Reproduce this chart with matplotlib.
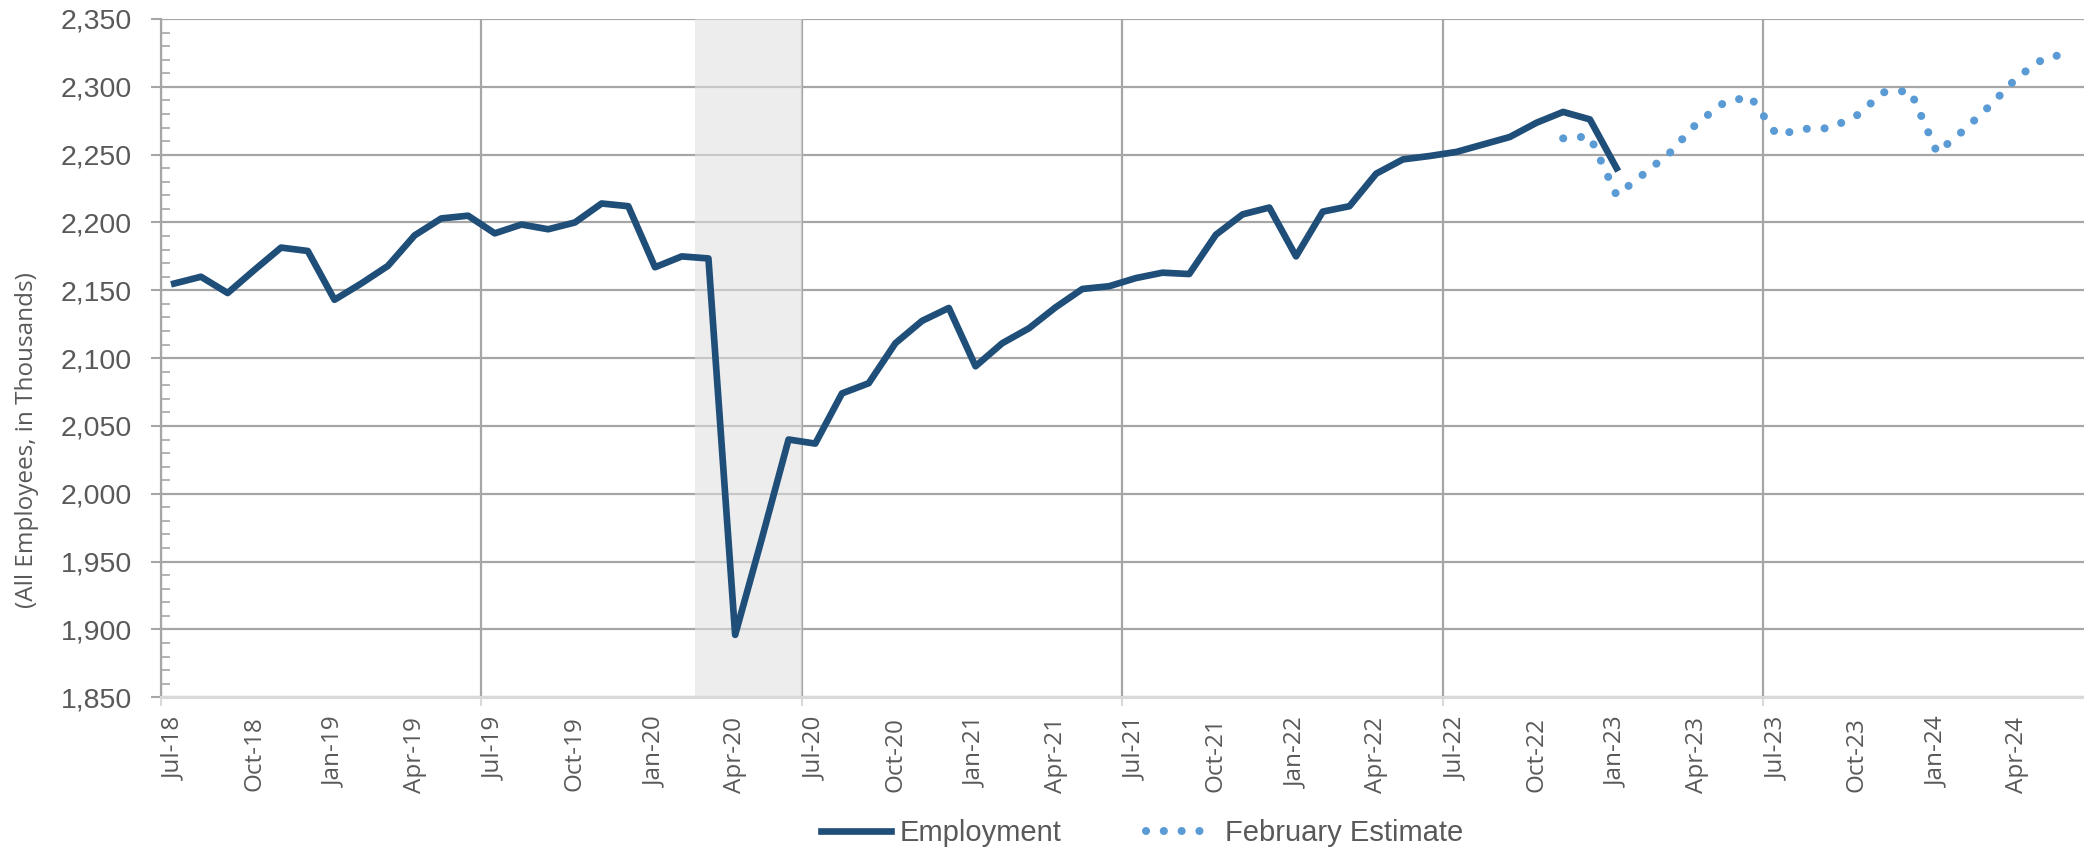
import numpy as np
import pandas as pd
import matplotlib
matplotlib.use("Agg")
import matplotlib.pyplot as plt
from matplotlib.ticker import FuncFormatter, MultipleLocator, FixedLocator

# monthly categories Jul-18 .. Jun-24
months = pd.date_range("2018-07-01", periods=72, freq="MS").strftime("%b-%y").tolist()

# Employment, Jul-18 .. Jan-23 (thousands)
employment = [2155, 2160, 2148, 2165, 2181.5, 2179, 2143, 2155, 2168, 2190.5,
              2203, 2205, 2192, 2198.5, 2195, 2200, 2214, 2212, 2167, 2175,
              2173.5, 1896, 1967, 2040, 2037, 2074, 2081.5, 2111, 2127.5, 2137,
              2094, 2111, 2122, 2137.5, 2151, 2153, 2159, 2163, 2162, 2191,
              2206, 2211, 2175, 2208, 2212, 2236, 2246.5, 2249, 2252, 2257.5,
              2263, 2273.5, 2281.5, 2276, 2240]

# February estimate, Nov-22 .. Jun-24
estimate_start = 52
estimate = [2262, 2263.5, 2220, 2235.5, 2251.5, 2273, 2288, 2293, 2264.5, 2269,
            2269.5, 2279, 2296, 2297, 2251.5, 2268, 2286.5, 2307, 2321, 2325]

# recession shading, Mar-20 .. Jun-20
shade_first, shade_last = 20, 23

text_col = "#595959"
grid_col = "#a6a6a6"

fig = plt.figure(figsize=(20.84, 8.52), dpi=100)
ax = fig.add_axes([0.0772, 0.1816, 0.9228, 0.7961])

ax.axvspan(shade_first - 0.5, shade_last + 0.5, color="#e1e1e1", alpha=0.57, lw=0, zorder=1)

x_emp = np.arange(len(employment))
x_est = np.arange(estimate_start, estimate_start + len(estimate))
ax.plot(x_emp, employment, color="#1f4e79", lw=4.8, solid_joinstyle="round",
        label="Employment", zorder=4)
ax.plot(x_est, estimate, color="#5b9bd5", lw=5.8, linestyle=(0, (0.01, 2.2)),
        dash_capstyle="round", label="February Estimate", zorder=3)

ax.set_xlim(-0.5, len(months) - 0.5)
ax.set_ylim(1850, 2350)

# x axis: labels every quarter, ticks/gridlines at each July boundary
ax.set_xticks(range(0, len(months), 3))
ax.set_xticklabels(months[::3], rotation=90, fontfamily="Open Sans",
                   fontsize=17.5, color=text_col)
ax.xaxis.set_minor_locator(FixedLocator([i - 0.5 for i in range(0, len(months), 12)]))
ax.tick_params(axis="x", which="major", length=0, pad=14)
ax.tick_params(axis="x", which="minor", length=6.5, width=1.5, color="#d9d9d9")
ax.grid(which="minor", axis="x", color=grid_col, lw=1.6, zorder=0)

# y axis
ax.yaxis.set_major_locator(MultipleLocator(50))
ax.yaxis.set_minor_locator(MultipleLocator(10))
ax.yaxis.set_major_formatter(FuncFormatter(lambda v, p: f"{v:,.0f}"))
ax.tick_params(axis="y", which="major", length=7, width=1.5, color=grid_col,
               labelsize=20.5, labelcolor=text_col, pad=13)
ax.tick_params(axis="y", which="minor", direction="in", length=6.5, width=1.2, color=grid_col)
ax.grid(which="major", axis="y", color=grid_col, lw=1.6, zorder=0)
ax.set_axisbelow(True)

ax.spines["right"].set_visible(False)
ax.spines["top"].set_visible(False)
ax.spines["left"].set_color(grid_col)
ax.spines["left"].set_linewidth(1.6)
ax.spines["bottom"].set_color("#d9d9d9")
ax.spines["bottom"].set_linewidth(2.2)

fig.text(0.013, 0.4836, "(All Employees, in Thousands)", rotation=90, ha="center",
         va="center", fontfamily="Open Sans", fontsize=17.5, color=text_col)

fig.legend(loc="center", bbox_to_anchor=(0.548, 0.022), ncol=2, frameon=False,
           prop={"family": "Liberation Sans", "size": 21},
           handlelength=2.4, columnspacing=2.9, handletextpad=0.3,
           labelcolor=text_col)

# y labels should end about 29 px left of the axis line
for lbl in ax.get_yticklabels():
    lbl.set_fontfamily("Liberation Sans")
fig.canvas.draw()
r = fig.canvas.get_renderer()
gap = ax.get_window_extent(r).x0 - ax.get_yticklabels()[0].get_window_extent(r).x1
ax.tick_params(axis="y", which="major", pad=13 - (gap - 29) * 72 / fig.dpi)
for lbl in ax.get_yticklabels():
    lbl.set_fontfamily("Liberation Sans")

fig.savefig("out.png", dpi=100)
